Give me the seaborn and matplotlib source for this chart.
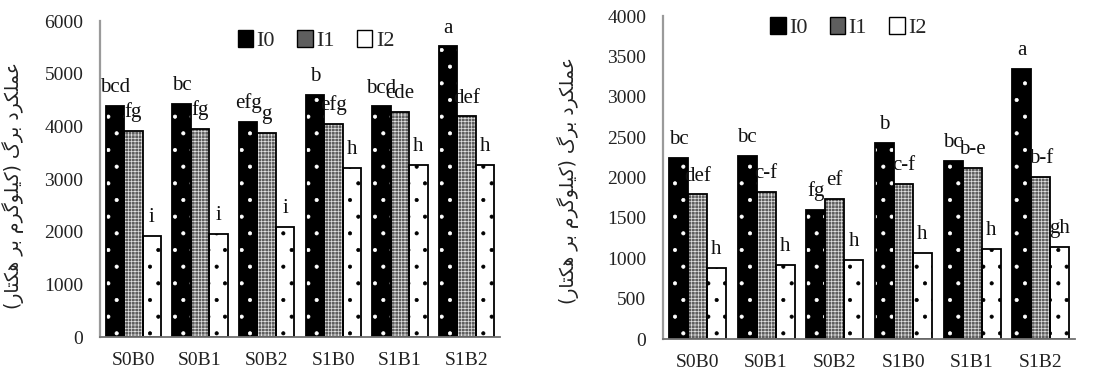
import numpy as np
import pandas as pd
import seaborn as sns
import matplotlib
matplotlib.use("Agg")
import matplotlib.pyplot as plt
from matplotlib.patches import Rectangle, Patch

categories = ["S0B0", "S0B1", "S0B2", "S1B0", "S1B1", "S1B2"]
levels = ["I0", "I1", "I2"]

left_I0 = [4390, 4420, 4090, 4600, 4380, 5520]
left_I1 = [3920, 3960, 3880, 4040, 4280, 4190]
left_I2 = [1920, 1950, 2090, 3210, 3270, 3270]
left_lab_I0 = ["bcd", "bc", "efg", "b", "bcd", "a"]
left_lab_I1 = ["fg", "fg", "g", "efg", "cde", "def"]
left_lab_I2 = ["i", "i", "i", "h", "h", "h"]

right_I0 = [2240, 2270, 1600, 2430, 2210, 3340]
right_I1 = [1790, 1820, 1730, 1920, 2120, 2010]
right_I2 = [880, 915, 975, 1070, 1120, 1135]
right_lab_I0 = ["bc", "bc", "fg", "b", "bc", "a"]
right_lab_I1 = ["def", "c-f", "ef", "c-f", "b-e", "b-f"]
right_lab_I2 = ["h", "h", "h", "h", "h", "gh"]

ylabel_text = "عملکرد برگ (کیلوگرم بر هکتار)"


def shape_fa(text):
    # minimal Persian shaping into presentation forms + visual (LTR) order
    f4 = lambda a, b, c, d: (a, b, c, d)
    forms = {
        "\u0639": f4("\uFEC9", "\uFECA", "\uFECB", "\uFECC"),  # ain
        "\u0645": f4("\uFEE1", "\uFEE2", "\uFEE3", "\uFEE4"),  # meem
        "\u0644": f4("\uFEDD", "\uFEDE", "\uFEDF", "\uFEE0"),  # lam
        "\u06A9": f4("\uFB8E", "\uFB8F", "\uFB90", "\uFB91"),  # keheh
        "\u0643": f4("\uFB8E", "\uFB8F", "\uFB90", "\uFB91"),
        "\u06AF": f4("\uFB92", "\uFB93", "\uFB94", "\uFB95"),  # gaf
        "\u06CC": f4("\uFBFC", "\uFBFD", "\uFBFE", "\uFBFF"),  # farsi yeh
        "\u064A": f4("\uFBFC", "\uFBFD", "\uFBFE", "\uFBFF"),
        "\u0628": f4("\uFE8F", "\uFE90", "\uFE91", "\uFE92"),  # beh
        "\u062A": f4("\uFE95", "\uFE96", "\uFE97", "\uFE98"),  # teh
        "\u0647": f4("\uFEE9", "\uFEEA", "\uFEEB", "\uFEEC"),  # heh
        "\u0631": f4("\uFEAD", "\uFEAE", None, None),  # reh
        "\u062F": f4("\uFEA9", "\uFEAA", None, None),  # dal
        "\u0648": f4("\uFEED", "\uFEEE", None, None),  # waw
        "\u0627": f4("\uFE8D", "\uFE8E", None, None),  # alef
    }
    out = []
    n = len(text)
    for i, ch in enumerate(text):
        if ch not in forms:
            out.append(ch)
            continue
        prev = text[i - 1] if i > 0 else None
        nxt = text[i + 1] if i < n - 1 else None
        jp = prev in forms and forms[prev][2] is not None
        jn = nxt in forms and forms[ch][2] is not None
        f = forms[ch]
        if jp and jn:
            g = f[3]
        elif jp:
            g = f[1]
        elif jn:
            g = f[2]
        else:
            g = f[0]
        out.append(g)
    vis = "".join(reversed(out))
    return vis.translate(str.maketrans("()", ")("))


sns.set_theme(style="white")
plt.rcParams["font.family"] = ["Liberation Serif", "DejaVu Sans"]
plt.rcParams["hatch.linewidth"] = 0.5

styles = [
    dict(face="#000000", hatchc="#ffffff", hatch="."),
    dict(face="#5e5e5e", hatchc="#e0e0e0", hatch="+++++"),
    dict(face="#ffffff", hatchc="#000000", hatch="."),
]


def make_df(v0, v1, v2):
    rows = []
    for lev, vals in zip(levels, [v0, v1, v2]):
        for c, v in zip(categories, vals):
            rows.append({"cat": c, "irr": lev, "val": v})
    return pd.DataFrame(rows)


def draw(ax, df, labs, ymax, ystep, legend_xy):
    sns.barplot(data=df, x="cat", y="val", hue="irr", order=categories,
                hue_order=levels, width=0.83, gap=0, errorbar=None,
                legend=False, saturation=1, ax=ax)
    for cont, st, lab in zip(ax.containers, styles, labs):
        for p, t in zip(cont.patches, lab):
            p.set_facecolor(st["face"])
            p.set_edgecolor(st["hatchc"])
            p.set_hatch(st["hatch"])
            p.set_linewidth(0)
            ax.add_patch(Rectangle(p.get_xy(), p.get_width(), p.get_height(),
                                   fill=False, edgecolor="black", linewidth=1.3,
                                   zorder=p.get_zorder() + 0.1))
            ax.annotate(t, (p.get_x() + p.get_width() / 2, p.get_height()),
                        xytext=(0, 10), textcoords="offset points",
                        ha="center", va="baseline", fontsize=15,
                        color="#111111")
    ax.set_xlim(-0.5, 5.5)
    ax.set_ylim(0, ymax)
    ax.set_yticks(np.arange(0, ymax + 1, ystep))
    ax.set_xlabel("")
    ax.set_ylabel(shape_fa(ylabel_text), fontsize=13.5,
                  family=["DejaVu Sans"], color="#222222")
    ax.tick_params(axis="both", length=0, labelsize=14, colors="#222222")
    ax.tick_params(axis="y", pad=12)
    ax.tick_params(axis="x", pad=11)
    for s in ["top", "right"]:
        ax.spines[s].set_visible(False)
    ax.spines["left"].set_color("#9a9a9a")
    ax.spines["left"].set_linewidth(1.6)
    ax.spines["bottom"].set_color("#707070")
    ax.spines["bottom"].set_linewidth(1.3)
    handles = [Patch(facecolor=st["face"], edgecolor="black",
                     linewidth=1.0) for st in styles]
    ax.legend(handles, levels, loc="center", bbox_to_anchor=legend_xy, ncol=3,
              frameon=False, fontsize=16, handlelength=0.7, handleheight=0.8,
              handletextpad=0.15, columnspacing=1.0, borderaxespad=0)


fig = plt.figure(figsize=(11.05, 3.76), dpi=100)
ax1 = fig.add_axes([0.0905, 0.1037, 0.362, 0.840])
ax2 = fig.add_axes([0.600, 0.0984, 0.373, 0.859])

draw(ax1, make_df(left_I0, left_I1, left_I2),
     [left_lab_I0, left_lab_I1, left_lab_I2], 6000, 1000, (0.54, 0.94))
draw(ax2, make_df(right_I0, right_I1, right_I2),
     [right_lab_I0, right_lab_I1, right_lab_I2], 4000, 500, (0.45, 0.965))
ax1.yaxis.set_label_coords(-0.19, 0.48)
ax2.yaxis.set_label_coords(-0.205, 0.49)

fig.savefig("out.png", dpi=100)
